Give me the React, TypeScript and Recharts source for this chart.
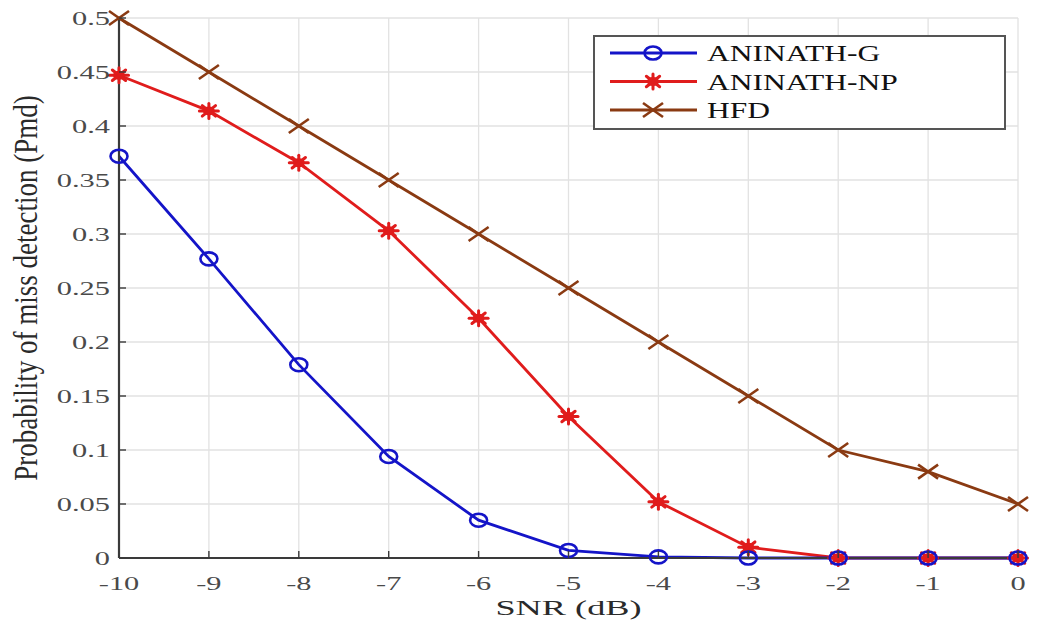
import React from 'react';
import { LineChart, Line, XAxis, YAxis, CartesianGrid } from 'recharts';

const snr = [-10, -9, -8, -7, -6, -5, -4, -3, -2, -1, 0];
const aninathG = [0.372, 0.277, 0.179, 0.094, 0.035, 0.007, 0.001, 0, 0, 0, 0];
const aninathNP = [0.447, 0.414, 0.366, 0.303, 0.222, 0.131, 0.052, 0.01, 0, 0, 0];
const hfd = [0.5, 0.45, 0.4, 0.35, 0.3, 0.25, 0.2, 0.15, 0.1, 0.08, 0.05];
const xTicks = [-10, -9, -8, -7, -6, -5, -4, -3, -2, -1, 0];
const yTicks = [0, 0.05, 0.1, 0.15, 0.2, 0.25, 0.3, 0.35, 0.4, 0.45, 0.5];
const yTickLabels = ['0', '0.05', '0.1', '0.15', '0.2', '0.25', '0.3', '0.35', '0.4', '0.45', '0.5'];

const seriesNames = ['ANINATH-G', 'ANINATH-NP', 'HFD'];
const BLUE = '#1414c8';
const RED = '#e01c1c';
const BROWN = '#8a3a12';
const FONT = '"Liberation Serif", "Times New Roman", serif';
const TICK_COLOR = '#4a4a4a';
const AXIS_COLOR = '#3a3a3a';
const SX = 1.6; // horizontal stretch of the original picture

const data = snr.map((s, i) => ({ snr: s, g: aninathG[i], np: aninathNP[i], hfd: hfd[i] }));

const CircleMark = ({ cx, cy }: any) =>
  cx == null || cy == null ? null : (
    <ellipse cx={cx} cy={cy} rx={8.5} ry={6.5} fill="none" stroke={BLUE} strokeWidth={2.6} />
  );

const StarMark = ({ cx, cy }: any) => {
  if (cx == null || cy == null) return null;
  const sx = 9.5;
  const sy = 7.5;
  const dx = sx * 0.7;
  const dy = sy * 0.7;
  return (
    <g stroke={RED} strokeWidth={3} strokeLinecap="round">
      <ellipse cx={cx} cy={cy} rx={6} ry={4.5} fill={RED} stroke="none" />
      <line x1={cx - sx} y1={cy} x2={cx + sx} y2={cy} />
      <line x1={cx} y1={cy - sy} x2={cx} y2={cy + sy} />
      <line x1={cx - dx} y1={cy - dy} x2={cx + dx} y2={cy + dy} />
      <line x1={cx - dx} y1={cy + dy} x2={cx + dx} y2={cy - dy} />
    </g>
  );
};

const XMark = ({ cx, cy }: any) => {
  if (cx == null || cy == null) return null;
  const sx = 10;
  const sy = 7;
  return (
    <g stroke={BROWN} strokeWidth={2.6}>
      <line x1={cx - sx} y1={cy - sy} x2={cx + sx} y2={cy + sy} />
      <line x1={cx - sx} y1={cy + sy} x2={cx + sx} y2={cy - sy} />
    </g>
  );
};

const StretchText = ({ x, y, anchor, size, fill, children, sx = SX }: any) => (
  <text
    transform={`translate(${x}, ${y}) scale(${sx}, 1)`}
    x={0}
    y={0}
    textAnchor={anchor}
    fill={fill}
    fontSize={size}
    fontFamily={FONT}
  >
    {children}
  </text>
);

const BottomTick = ({ x, y, payload }: any) => (
  <g>
    <line x1={x} y1={y} x2={x} y2={y - 7} stroke={AXIS_COLOR} strokeWidth={1.4} />
    <StretchText x={x} y={y + 32} anchor="middle" size={19} fill={TICK_COLOR}>
      {payload.value}
    </StretchText>
  </g>
);

const LeftTick = ({ x, y, payload, index }: any) => (
  <g>
    <line x1={x} y1={y} x2={x + 7} y2={y} stroke={AXIS_COLOR} strokeWidth={1.4} />
    <StretchText x={x - 9} y={y + 7} anchor="end" size={19} fill={TICK_COLOR}>
      {yTickLabels[yTicks.indexOf(payload.value)] ?? yTickLabels[index]}
    </StretchText>
  </g>
);

const TopTick = ({ x, y }: any) => (
  <line x1={x} y1={y} x2={x} y2={y + 7} stroke={AXIS_COLOR} strokeWidth={1.4} />
);

const RightTick = ({ x, y }: any) => (
  <line x1={x} y1={y} x2={x - 7} y2={y} stroke={AXIS_COLOR} strokeWidth={1.4} />
);

const YLabel = ({ viewBox }: any) => {
  const cx = 26;
  const cy = viewBox.y + viewBox.height / 2;
  return (
    <text
      transform={`translate(${cx}, ${cy}) scale(1.25, 1) rotate(-90)`}
      x={0}
      y={0}
      textAnchor="middle"
      dominantBaseline="central"
      fill="#2a2a2a"
      fontSize={27}
      fontFamily={FONT}
    >
      Probability of miss detection (Pmd)
    </text>
  );
};

const XLabel = ({ viewBox }: any) => {
  const cx = viewBox.x + viewBox.width / 2;
  return (
    <StretchText x={cx} y={viewBox.y + 57} anchor="middle" size={22} fill="#2a2a2a" sx={1.65}>
      SNR (dB)
    </StretchText>
  );
};

const legendMarks = [
  { color: BLUE, Mark: CircleMark },
  { color: RED, Mark: StarMark },
  { color: BROWN, Mark: XMark },
];

const LegendBox = () => (
  <div
    style={{
      position: 'absolute',
      left: 593,
      top: 35,
      width: 413,
      height: 95,
      border: '2px solid #555',
      background: '#fff',
      boxSizing: 'border-box',
    }}
  >
    <svg width={409} height={91} style={{ position: 'absolute', left: 0, top: 0 }}>
      {seriesNames.map((name, i) => {
        const y = 16 + i * 28.5;
        const { color, Mark } = legendMarks[i];
        return (
          <g key={name}>
            <line x1={15} y1={y} x2={102} y2={y} stroke={color} strokeWidth={3.2} />
            <Mark cx={58} cy={y} />
            <StretchText x={112} y={y + 8} anchor="start" size={23} fill="#111" sx={1.37}>
              {name}
            </StretchText>
          </g>
        );
      })}
    </svg>
  </div>
);

export default function App() {
  return (
    <div style={{ position: 'absolute', left: 0, top: 0, width: 1041, height: 627, background: '#fff' }}>
      <LineChart
        width={1041}
        height={627}
        data={data}
        margin={{ top: 18, right: 23, bottom: 0, left: 0 }}
      >
        <CartesianGrid stroke="#e2e2e2" strokeWidth={1.3} />
        <XAxis
          dataKey="snr"
          type="number"
          domain={[-10, 0]}
          ticks={xTicks}
          height={69}
          tickSize={0}
          tickMargin={0}
          axisLine={{ stroke: AXIS_COLOR, strokeWidth: 2.2 }}
          tickLine={false}
          tick={<BottomTick />}
          interval={0}
          label={<XLabel />}
        />
        <XAxis
          xAxisId="top"
          orientation="top"
          dataKey="snr"
          type="number"
          domain={[-10, 0]}
          ticks={xTicks}
          height={0}
          tickSize={0}
          tickMargin={0}
          axisLine={{ stroke: AXIS_COLOR, strokeWidth: 1.8 }}
          tickLine={false}
          tick={<TopTick />}
          interval={0}
        />
        <YAxis
          type="number"
          domain={[0, 0.5]}
          ticks={yTicks}
          width={119}
          tickSize={0}
          tickMargin={0}
          axisLine={{ stroke: AXIS_COLOR, strokeWidth: 2.2 }}
          tickLine={false}
          tick={<LeftTick />}
          interval={0}
          label={<YLabel />}
        />
        <YAxis
          yAxisId="right"
          orientation="right"
          type="number"
          domain={[0, 0.5]}
          ticks={yTicks}
          width={0}
          tickSize={0}
          tickMargin={0}
          axisLine={{ stroke: AXIS_COLOR, strokeWidth: 1.8 }}
          tickLine={false}
          tick={<RightTick />}
          interval={0}
        />
        <Line
          dataKey="hfd"
          name={seriesNames[2]}
          stroke={BROWN}
          strokeWidth={2.8}
          dot={<XMark />}
          activeDot={false}
          isAnimationActive={false}
        />
        <Line
          dataKey="np"
          name={seriesNames[1]}
          stroke={RED}
          strokeWidth={2.8}
          dot={<StarMark />}
          activeDot={false}
          isAnimationActive={false}
        />
        <Line
          dataKey="g"
          name={seriesNames[0]}
          stroke={BLUE}
          strokeWidth={2.8}
          dot={<CircleMark />}
          activeDot={false}
          isAnimationActive={false}
        />
      </LineChart>
      <LegendBox />
    </div>
  );
}
